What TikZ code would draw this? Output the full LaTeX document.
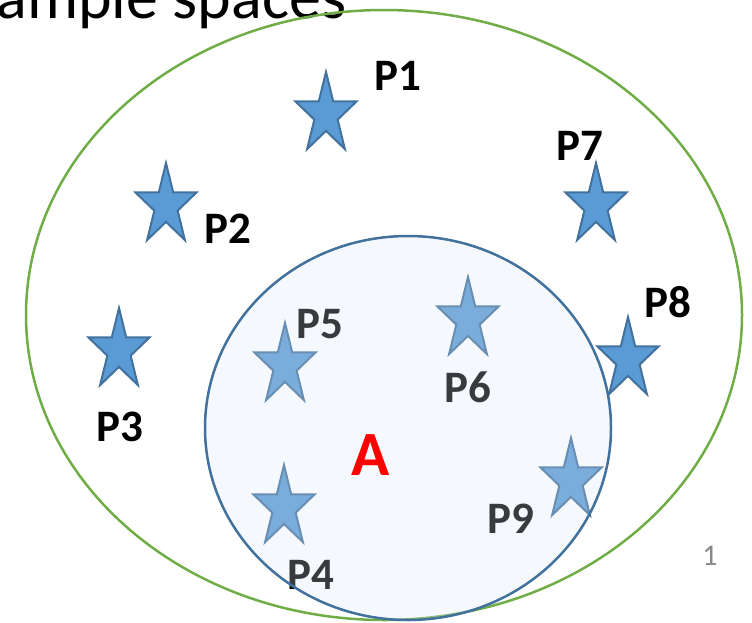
\documentclass[tikz,border=0pt]{standalone}
\usepackage{fontspec}
\setmainfont{Carlito}
\definecolor{grn}{HTML}{70AD47}
\definecolor{sblue}{HTML}{5B9BD5}
\definecolor{dblue}{HTML}{41719C}
\definecolor{afill}{HTML}{DAE3F3}
\definecolor{pgray}{HTML}{898989}
\newcommand\pstar[2]{%
  \begin{scope}[shift={(#1,#2+42.6)}]
    \draw[starsty, xscale=32.1, yscale=-42.6] (90:1) -- (126:0.382) -- (162:1) -- (198:0.382) -- (234:1) -- (270:0.382) -- (306:1) -- (342:0.382) -- (18:1) -- (54:0.382) -- cycle;
  \end{scope}}
\begin{document}
\begin{tikzpicture}[x=1pt,y=-1pt,
  lbl/.style={font=\fontsize{45}{50}\selectfont\bfseries, inner sep=0pt, anchor=center},
  starsty/.style={fill=sblue, draw=dblue, line width=2pt, line join=miter}]
\useasboundingbox (0,0) rectangle (752,622);
\clip (0,0) rectangle (752,622);
\node[anchor=base west, inner sep=0pt, font=\fontsize{64}{72}\selectfont] (title) at (-33,18) {Sample spaces};
\draw[grn, line width=2.5pt] (384,315) ellipse [x radius=358, y radius=305];
% stars
\pstar{326}{72}
\pstar{166}{163}
\pstar{119}{308}
\pstar{596}{163}
\pstar{285}{323}
\pstar{468}{277}
\pstar{284}{465}
\pstar{571}{438}
% labels
\node[lbl] (p1) at (398,76) {P1};
\node[lbl] (p2) at (228,229) {P2};
\node[lbl] (p3) at (120,427) {P3};
\node[lbl] (p7) at (580,146) {P7};
\node[lbl] (p8) at (668,302) {P8};
\node[lbl] (p5) at (320,324) {P5};
\node[lbl] (p6) at (468,387) {P6};
\node[lbl] (p4) at (311,575) {P4};
\node[lbl] (p9) at (511,519) {P9};
% event A
\draw[dblue, line width=2.5pt, fill=afill, fill opacity=0.26] (408,428) ellipse [x radius=203, y radius=192];
\pstar{628}{317}
\node[lbl, text=red, font=\fontsize{63}{70}\selectfont\bfseries] (A) at (371,455) {A};
\node[inner sep=0pt, text=pgray, font=\fontsize{30}{34}\selectfont] (pg) at (710,556) {1};
\end{tikzpicture}
\end{document}
